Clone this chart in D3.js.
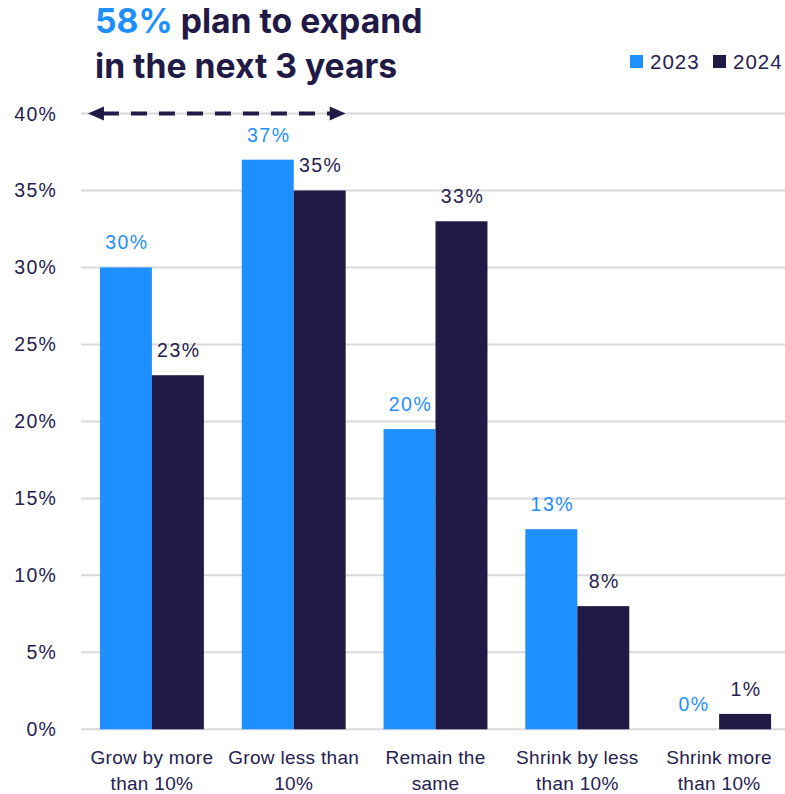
<!DOCTYPE html>
<html><head><meta charset="utf-8">
<script src="https://cdn.jsdelivr.net/npm/d3@7"></script>
<style>body{margin:0;background:#fff}svg{display:block}</style>
</head><body>
<script>
const categories = [["Grow by more","than 10%"],["Grow less than","10%"],["Remain the","same"],["Shrink by less","than 10%"],["Shrink more","than 10%"]];
const seriesNames = ["2023","2024"];
const values2023 = [30, 37, 19.5, 13, 0];
const values2024 = [23, 35, 33, 8, 1];
const labels2023 = ["30%","37%","20%","13%","0%"];
const labels2024 = ["23%","35%","33%","8%","1%"];
const yTicks = [0,5,10,15,20,25,30,35,40];

const W = 785, H = 794;
const blue = "#1E8FFF", navy = "#211A47", textCol = "#252150";
const font = "'Liberation Sans', Arial, sans-serif";
const svg = d3.select("body").append("svg").attr("width", W).attr("height", H);

const x0 = d3.scaleBand().domain(d3.range(categories.length)).range([81, 790]).paddingInner(0.267).paddingOuter(0.1335);
const x1 = d3.scaleBand().domain(seriesNames).range([0, x0.bandwidth()]);
const y = d3.scaleLinear().domain([0, 40]).range([729.3, 113.5]);

// gridlines
svg.append("g").selectAll("line").data(yTicks).join("line")
  .attr("x1", 81).attr("x2", W).attr("y1", d => y(d)).attr("y2", d => y(d))
  .attr("stroke", "#d9d9d9").attr("stroke-width", 2);

// y axis labels
svg.append("g").selectAll("text").data(yTicks).join("text")
  .attr("x", 57).attr("y", d => y(d) + 7).attr("text-anchor", "end")
  .attr("font-family", font).attr("font-size", 19.5).attr("fill", textCol)
  .attr("letter-spacing", 1.2)
  .text(d => d + "%");

const series = [
  {name: "2023", vals: values2023, labels: labels2023, color: blue, tcol: blue},
  {name: "2024", vals: values2024, labels: labels2024, color: navy, tcol: textCol}
];

series.forEach(s => {
  const g = svg.append("g");
  g.selectAll("rect").data(s.vals).join("rect")
    .attr("x", (d, i) => x0(i) + x1(s.name))
    .attr("width", x1.bandwidth())
    .attr("y", d => y(d))
    .attr("height", d => y(0) - y(d))
    .attr("fill", s.color);
  g.selectAll("text").data(s.vals).join("text")
    .attr("x", (d, i) => x0(i) + x1(s.name) + x1.bandwidth() / 2 + 1)
    .attr("y", d => y(d) - 18)
    .attr("text-anchor", "middle")
    .attr("font-family", font).attr("font-size", 19.5).attr("fill", s.tcol)
    .attr("letter-spacing", 1.5)
    .text((d, i) => s.labels[i]);
});

// category labels
const cat = svg.append("g").selectAll("text").data(categories).join("text")
  .attr("text-anchor", "middle")
  .attr("font-family", font).attr("font-size", 19).attr("fill", textCol)
  .attr("letter-spacing", 0.3);
cat.each(function(d, i) {
  const t = d3.select(this);
  d.forEach((line, j) => {
    t.append("tspan").attr("x", x0(i) + x0.bandwidth() / 2).attr("y", 764 + j * 26).text(line);
  });
});

// legend
const leg = [{name: "2023", color: blue, x: 630}, {name: "2024", color: navy, x: 713}];
leg.forEach(l => {
  svg.append("rect").attr("x", l.x).attr("y", 55).attr("width", 13).attr("height", 13).attr("fill", l.color);
  svg.append("text").attr("x", l.x + 20).attr("y", 68.5).attr("font-family", font).attr("font-size", 20.5)
    .attr("letter-spacing", 1).attr("fill", textCol).text(l.name);
});

// title
const tfont = "Inter, 'Liberation Sans', sans-serif";
const title = svg.append("text").attr("x", 95).attr("y", 33)
  .attr("font-family", tfont).attr("font-weight", 700).attr("font-size", 33.7).attr("fill", navy);
title.append("tspan").attr("fill", blue).text("58%");
title.append("tspan").text(" plan to expand");
svg.append("text").attr("x", 95).attr("y", 78)
  .attr("font-family", tfont).attr("font-weight", 700).attr("font-size", 33.7).attr("fill", navy)
  .text("in the next 3 years");

// dashed double arrow across the two "grow" categories
const ax1 = x0(0) + x1("2023") - 12, ax2 = x0(1) + x0.bandwidth();
const ay = y(40);
svg.append("line").attr("x1", ax1 + 15).attr("x2", ax2 - 15).attr("y1", ay).attr("y2", ay)
  .attr("stroke", navy).attr("stroke-width", 4).attr("stroke-dasharray", "16,12");
svg.append("path").attr("d", `M${ax1},${ay} L${ax1 + 16},${ay - 7} L${ax1 + 16},${ay + 7} Z`).attr("fill", navy);
svg.append("path").attr("d", `M${ax2},${ay} L${ax2 - 16},${ay - 7} L${ax2 - 16},${ay + 7} Z`).attr("fill", navy);
</script>
</body></html>
